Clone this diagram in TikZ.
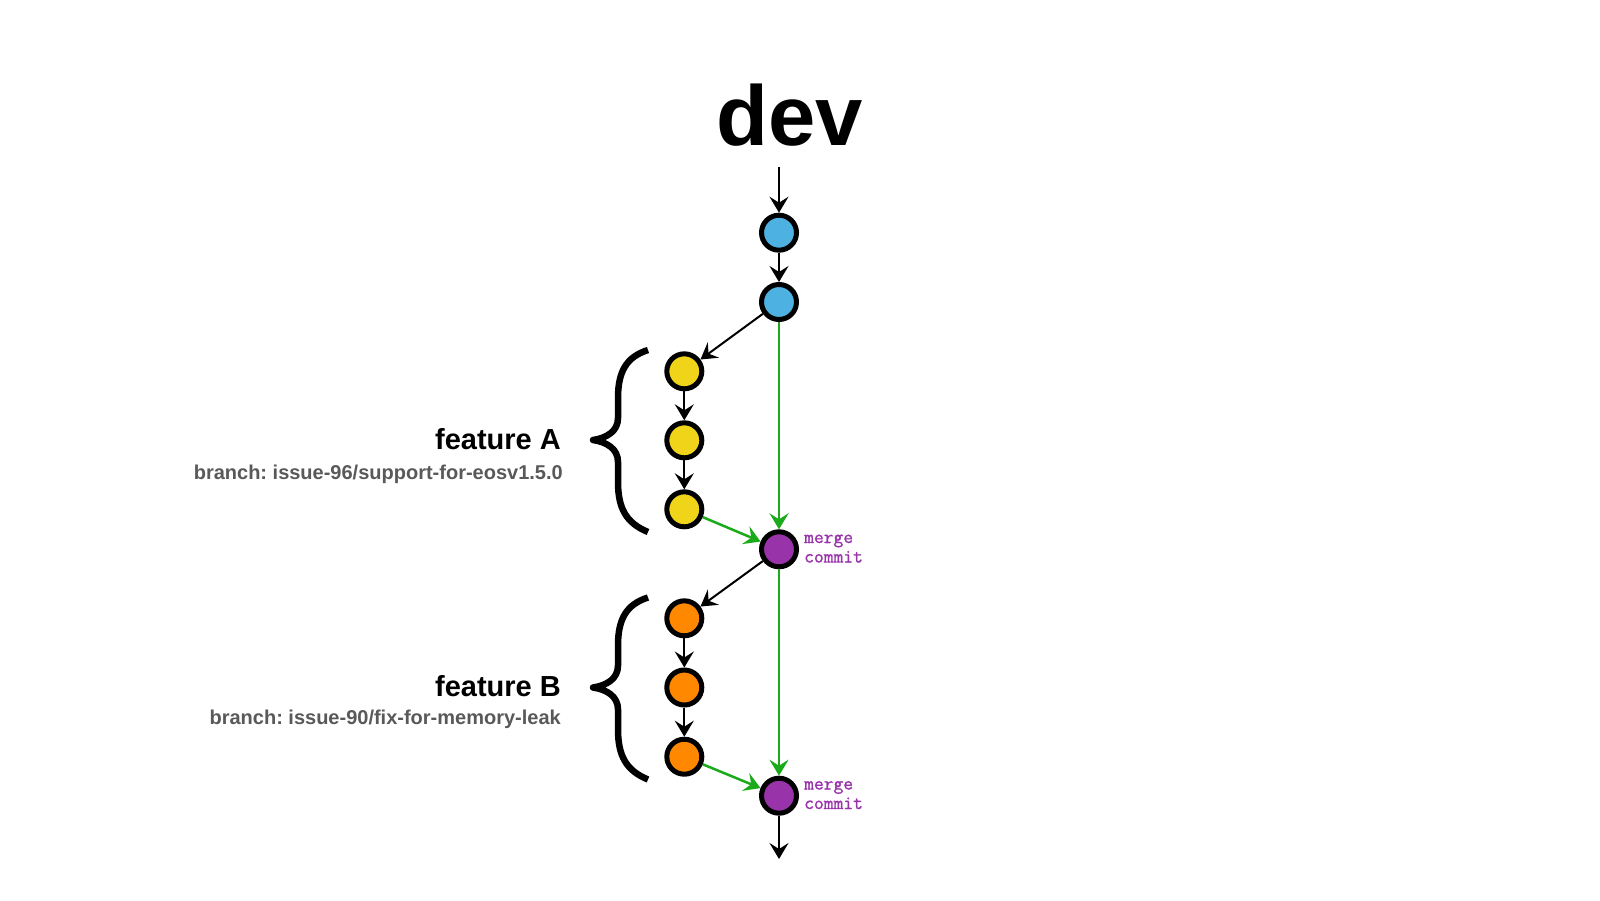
\documentclass[tikz,border=0pt]{standalone}
\usepackage{fontspec}
\setmainfont{Liberation Sans}
\newfontfamily\mergefont{Latin Modern Mono}[FakeBold=1.2]
\usetikzlibrary{arrows.meta}
\definecolor{cblue}{HTML}{4DB2E2}
\definecolor{cyellow}{HTML}{F0D419}
\definecolor{cpurple}{HTML}{9933AA}
\definecolor{corange}{HTML}{FF8800}
\definecolor{cgreen}{HTML}{1AAA1A}
\definecolor{cgray}{HTML}{595959}
\tikzset{
  commit/.style={circle, draw=black, line width=5pt, minimum size=35pt, inner sep=0pt},
  tip/.style={-{Stealth[length=16pt,width=19pt,inset=6pt]}},
  blackarrow/.style={tip, draw=black, line width=2pt},
  greenarrow/.style={tip, draw=cgreen, fill=cgreen, line width=2.5pt},
  brace/.style={draw=black, line width=6.5pt, line cap=butt, line join=round},
  title/.style={font=\bfseries\fontsize{85}{90}\selectfont, inner sep=0pt, anchor=base},
  feat/.style={font=\bfseries\fontsize{29}{32}\selectfont, inner sep=0pt, anchor=base east},
  branchlbl/.style={font=\frenchspacing\bfseries\fontsize{20}{22}\selectfont, text=cgray, inner sep=0pt, anchor=base east},
  mergelbl/.style={font=\mergefont\fontsize{19}{20}\selectfont, text=cpurple, inner sep=0pt, anchor=base west},
}
\begin{document}
\begin{tikzpicture}[x=1pt,y=-1pt]
\useasboundingbox[fill=white] (0,0) rectangle (1600,900);
% title
\node[title] (dev) at (789.5,145) {dev};
\coordinate (start) at (779,167);
\coordinate (finish) at (779,859);
% commits
\node[commit, fill=cblue] (b1) at (779,232.7) {};
\node[commit, fill=cblue] (b2) at (779,302) {};
\node[commit, fill=cyellow] (y1) at (684.3,371.3) {};
\node[commit, fill=cyellow] (y2) at (684.3,440.3) {};
\node[commit, fill=cyellow] (y3) at (684.3,509.3) {};
\node[commit, fill=cpurple] (m1) at (779,549.3) {};
\node[commit, fill=corange] (o1) at (684.3,618.3) {};
\node[commit, fill=corange] (o2) at (684.3,687.5) {};
\node[commit, fill=corange] (o3) at (684.3,756.7) {};
\node[commit, fill=cpurple] (m2) at (779,795.7) {};
% connectors
\draw[blackarrow] (start) -- (b1);
\draw[blackarrow] (b1) -- (b2);
\draw[blackarrow] (b2) -- (y1);
\draw[greenarrow] (b2) -- (m1);
\draw[blackarrow] (y1) -- (y2);
\draw[blackarrow] (y2) -- (y3);
\draw[greenarrow] (y3) -- (m1);
\draw[blackarrow] (m1) -- (o1);
\draw[greenarrow] (m1) -- (m2);
\draw[blackarrow] (o1) -- (o2);
\draw[blackarrow] (o2) -- (o3);
\draw[greenarrow] (o3) -- (m2);
\draw[blackarrow] (m2) -- (finish);
% merge labels
\node[mergelbl] (m1a) at (804,543) {merge};
\node[mergelbl] (m1b) at (804,562.5) {commit};
\node[mergelbl] (m2a) at (804,789.5) {merge};
\node[mergelbl] (m2b) at (804,809) {commit};
% braces
\draw[brace] (648,350) .. controls (626,357) and (618,372) .. (618,398) -- (618,418)
  .. controls (618,431) and (607,438) .. (593,440)
  .. controls (607,442) and (618,449) .. (618,462) -- (618,482)
  .. controls (618,508) and (626,523) .. (648,532);
\draw[brace] (648,597.5) .. controls (626,604.5) and (618,619.5) .. (618,645.5) -- (618,665.5)
  .. controls (618,678.5) and (607,685.5) .. (593,687.5)
  .. controls (607,689.5) and (618,696.5) .. (618,709.5) -- (618,729.5)
  .. controls (618,755.5) and (626,770.5) .. (648,779.5);
% labels
\node[feat] (fa) at (561,449.5) {feature A};
\node[branchlbl] (ba) at (563,479) {branch: issue-96/support-for-eosv1.5.0};
\node[feat] (fb) at (561,696.5) {feature B};
\node[branchlbl] (bb) at (561,724.5) {branch: issue-90/fix-for-memory-leak};
\end{tikzpicture}
\end{document}
